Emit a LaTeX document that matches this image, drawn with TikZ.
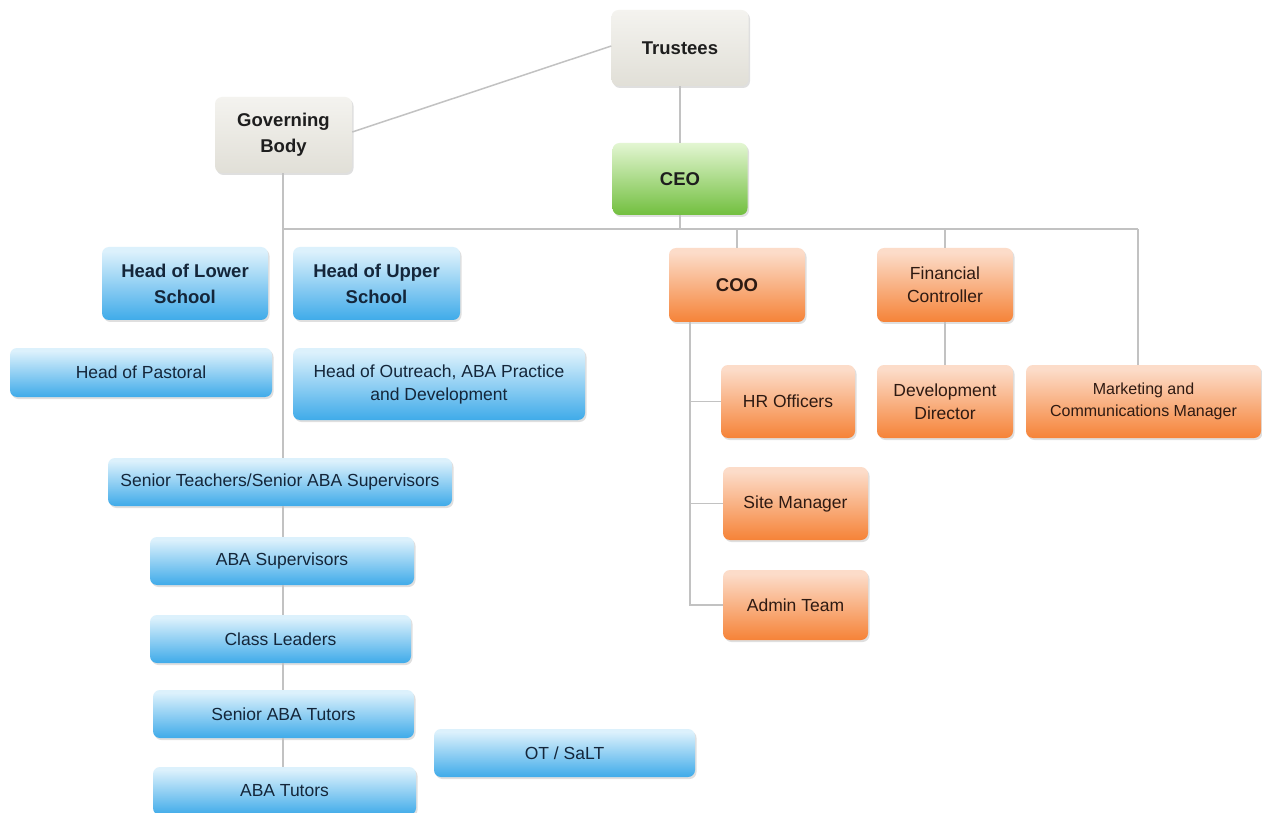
\documentclass[tikz,border=0pt]{standalone}
\usepackage{fontspec}
\setmainfont{Liberation Sans}
\usetikzlibrary{shadows}
\definecolor{lineC}{HTML}{C2C2C2}
\definecolor{txt}{HTML}{1E1E1E}
\definecolor{btxt}{HTML}{14263A}
\definecolor{otxt}{HTML}{2E1A12}
\definecolor{gT}{HTML}{F4F3EF}
\definecolor{gB}{HTML}{E1DFD7}
\definecolor{grT}{HTML}{E3F6D2}
\definecolor{grB}{HTML}{72BF3F}
\definecolor{bT}{HTML}{DCF1FC}
\definecolor{bB}{HTML}{35A6E8}
\definecolor{oT}{HTML}{FCDCC9}
\definecolor{oB}{HTML}{F57D2E}
\pgfdeclareverticalshading{greysh}{100bp}{color(0bp)=(gB); color(25bp)=(gB); color(75bp)=(gT); color(100bp)=(gT)}
\pgfdeclareverticalshading{greensh}{100bp}{color(0bp)=(grB); color(25bp)=(grB); color(75bp)=(grT); color(100bp)=(grT)}
\pgfdeclareverticalshading{bluesh}{100bp}{color(0bp)=(bB); color(22bp)=(bB); color(72bp)=(bT); color(100bp)=(bT)}
\pgfdeclareverticalshading{orangesh}{100bp}{color(0bp)=(oB); color(22bp)=(oB); color(72bp)=(oT); color(100bp)=(oT)}
\tikzset{
  box/.style={rounded corners=7pt, align=center, text=txt, inner sep=3pt,
    drop shadow={shadow xshift=1.5pt, shadow yshift=-2pt, opacity=0.25}},
  greybox/.style={box, shading=greysh},
  greenbox/.style={box, shading=greensh},
  bluebox/.style={box, shading=bluesh, text=btxt},
  orangebox/.style={box, shading=orangesh, text=otxt},
  bf/.style={font=\fontsize{18.5}{26}\selectfont\bfseries},
  rg/.style={font=\fontsize{17.5}{23}\selectfont},
  sm/.style={font=\fontsize{16}{21.5}\selectfont},
  conn/.style={draw=lineC, line width=1.5pt}
}
\begin{document}
\begin{tikzpicture}[x=1pt,y=-1pt]
\fill[white] (0,0) rectangle (1262,813);
\useasboundingbox (0,0) rectangle (1262,813);
% nodes
\node[greybox,bf,minimum width=137,minimum height=76] (tr) at (680,48) {Trustees};
\node[greybox,bf,minimum width=137,minimum height=76] (gb) at (283.5,135) {Governing\\Body};
\node[greenbox,bf,minimum width=135,minimum height=72] (ceo) at (680,179) {CEO};
\node[bluebox,bf,minimum width=166,minimum height=73] (hls) at (185,283.5) {Head of Lower\\School};
\node[bluebox,bf,minimum width=167,minimum height=73] (hus) at (376.5,283.5) {Head of Upper\\School};
\node[orangebox,bf,minimum width=136,minimum height=74] (coo) at (737,285) {COO};
\node[orangebox,rg,minimum width=136,minimum height=74] (fc) at (945,285) {Financial\\Controller};
\node[bluebox,rg,minimum width=262,minimum height=49] (hp) at (141,372.5) {Head of Pastoral};
\node[bluebox,rg,minimum width=292,minimum height=72] (ho) at (439,384) {Head of Outreach, ABA Practice\\and Development};
\node[orangebox,rg,minimum width=134,minimum height=73] (hr) at (788,401.5) {HR Officers};
\node[orangebox,rg,minimum width=136,minimum height=73] (dd) at (945,401.5) {Development\\Director};
\node[orangebox,sm,minimum width=235,minimum height=73] (mk) at (1143.5,401.5) {Marketing and\\Communications Manager};
\node[bluebox,rg,minimum width=344,minimum height=48] (st) at (280,482) {Senior Teachers/Senior ABA Supervisors};
\node[orangebox,rg,minimum width=145,minimum height=73] (smg) at (795.5,503.5) {Site Manager};
\node[bluebox,rg,minimum width=264,minimum height=48] (as) at (282,561) {ABA Supervisors};
\node[orangebox,rg,minimum width=145,minimum height=70] (at) at (795.5,605) {Admin Team};
\node[bluebox,rg,minimum width=261,minimum height=48] (cl) at (280.5,639) {Class Leaders};
\node[bluebox,rg,minimum width=261,minimum height=48] (sat) at (283.5,714) {Senior ABA Tutors};
\node[bluebox,rg,minimum width=261,minimum height=48] (ot) at (564.5,753) {OT / SaLT};
\node[bluebox,rg,minimum width=263,minimum height=48] (abt) at (284.5,791) {ABA Tutors};
% helper coordinates
\coordinate (sp) at (283,0);
\coordinate (barL) at (283,229);
\coordinate (barR) at (1138,229);
\coordinate (ct) at (690,0);
% connectors
\draw[conn] ([yshift=3pt]gb.east) -- ([yshift=2pt]tr.west);
\draw[conn] (tr.south) -- (ceo.north);
\draw[conn] (gb.south -| sp) -- (st.north -| sp);
\draw[conn] (st.south -| sp) -- (as.north -| sp);
\draw[conn] (as.south -| sp) -- (cl.north -| sp);
\draw[conn] (cl.south -| sp) -- (sat.north -| sp);
\draw[conn] (sat.south -| sp) -- (abt.north -| sp);
\draw[conn] (ceo.south) -- (ceo.south |- barL);
\draw[conn] (barL) -- (barR);
\draw[conn] (coo.north |- barL) -- (coo.north);
\draw[conn] (fc.north |- barL) -- (fc.north);
\draw[conn] (barR) -- (mk.north -| barR);
\draw[conn] (fc.south) -- (dd.north);
\draw[conn] (coo.south -| ct) |- (hr.west);
\draw[conn] (coo.south -| ct) |- (smg.west);
\draw[conn] (coo.south -| ct) |- (at.west);
\end{tikzpicture}
\end{document}
